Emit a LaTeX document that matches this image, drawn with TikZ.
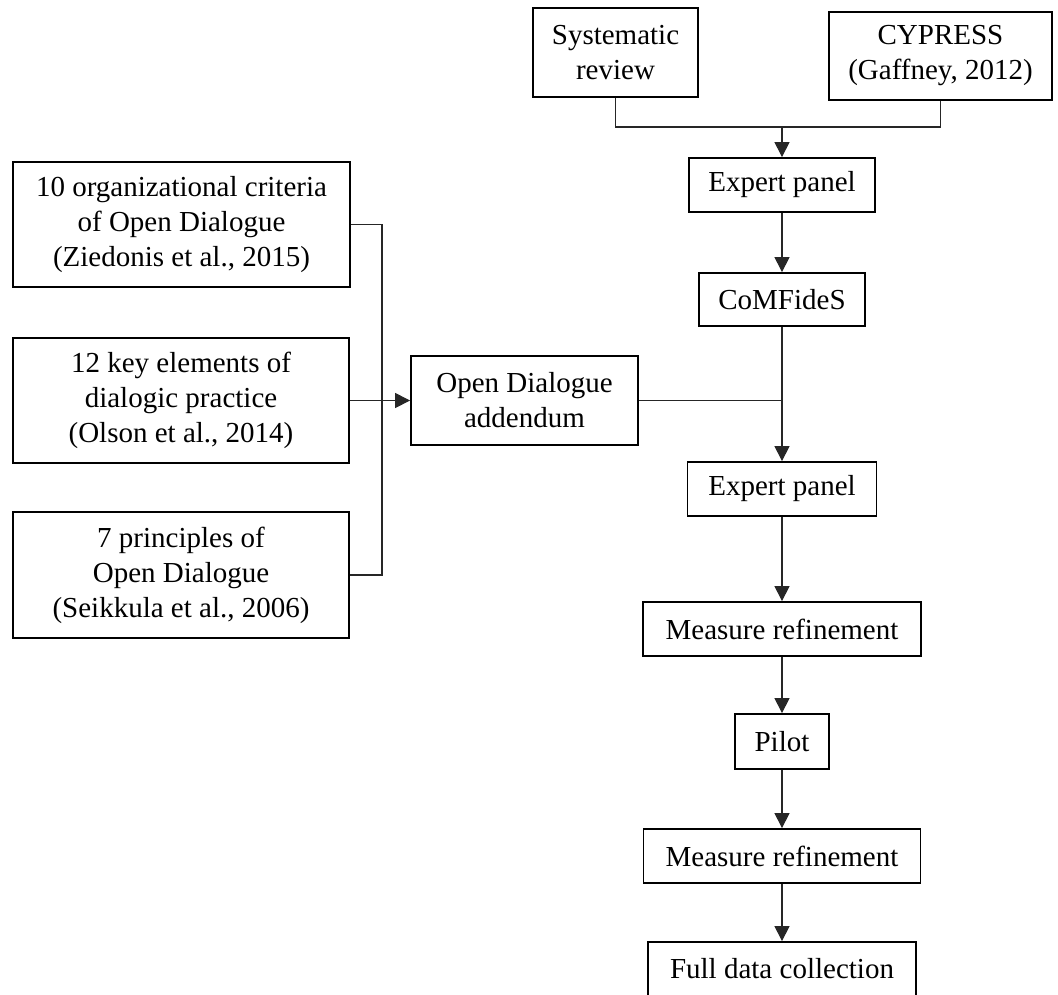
\documentclass[tikz,border=0pt]{standalone}
\usepackage{fontspec}
\setmainfont{Liberation Serif}
\usetikzlibrary{arrows.meta}
\begin{document}
\begin{tikzpicture}[x=1pt,y=-1pt,
  box/.style={draw=black,line width=1.8pt,inner sep=0pt,align=center,
    font=\fontsize{29}{35}\selectfont},
  conn/.style={draw=black!85,line width=1.1pt},
  arr/.style={conn,-{Triangle[length=15pt,width=15pt]}}]
\useasboundingbox (0,0) rectangle (1058,994);
\begin{scope}
\clip (0,0) rectangle (1058,994);
\node[box,minimum width=165pt,minimum height=89pt] (sr) at (615.5,52.5) {Systematic\\review};
\node[box,minimum width=223pt,minimum height=88pt] (cy) at (940.5,56) {CYPRESS\\(Gaffney, 2012)};
\node[box,minimum width=186pt,minimum height=54pt] (ep1) at (782,185) {Expert panel};
\node[box,minimum width=166pt,minimum height=53pt] (cm) at (782,299.5) {CoMFideS};
\node[box,minimum width=227pt,minimum height=89pt] (od) at (524.5,400.5) {Open Dialogue\\addendum};
\node[box,minimum width=337pt,minimum height=125pt] (b1) at (181.5,224.5) {10 organizational criteria\\of Open Dialogue\\(Ziedonis et al., 2015)};
\node[box,minimum width=336pt,minimum height=125pt] (b2) at (181,400.5) {12 key elements of\\dialogic practice\\(Olson et al., 2014)};
\node[box,minimum width=336pt,minimum height=126pt] (b3) at (181,575) {7 principles of\\Open Dialogue\\(Seikkula et al., 2006)};
\node[box,minimum width=189pt,minimum height=54pt] (ep2) at (782,489) {Expert panel};
\node[box,minimum width=278pt,minimum height=54pt] (mr1) at (782,629) {Measure refinement};
\node[box,minimum width=94pt,minimum height=55pt] (pilot) at (782,741.5) {Pilot};
\node[box,minimum width=277pt,minimum height=54pt] (mr2) at (782,856) {Measure refinement};
\node[box,minimum width=268pt,minimum height=54pt] (fdc) at (782,969) {Full data collection};
\coordinate (j1) at (782,127);
\coordinate (j2) at (382,400.5);
\draw[conn] (sr.south) |- (j1) -| (cy.south);
\draw[arr] (j1) -- (ep1.north);
\draw[arr] (ep1.south) -- (cm.north);
\draw[arr] (cm.south) -- (ep2.north);
\draw[conn] (od.east) -- (od.east -| cm.south);
\draw[conn] (b1.east) -| (j2) |- (b3.east);
\draw[arr] (b2.east) -- (od.west);
\draw[arr] (ep2.south) -- (mr1.north);
\draw[arr] (mr1.south) -- (pilot.north);
\draw[arr] (pilot.south) -- (mr2.north);
\draw[arr] (mr2.south) -- (fdc.north);
\end{scope}
\end{tikzpicture}
\end{document}
